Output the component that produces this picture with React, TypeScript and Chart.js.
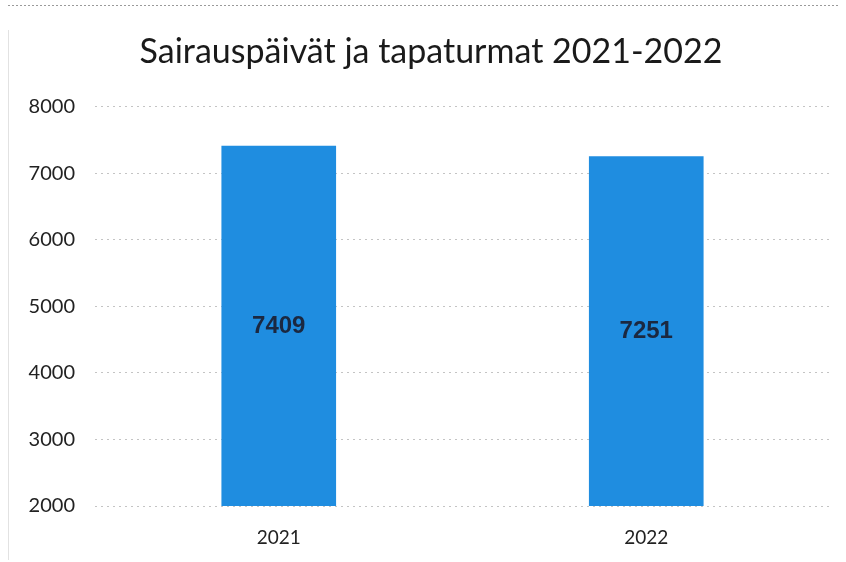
import React, { useEffect, useRef } from "react";
import { Chart, registerables } from "chart.js";

Chart.register(...registerables);

const categories = ["2021", "2022"];
const values = [7409, 7251];
const yTicks = [2000, 3000, 4000, 5000, 6000, 7000, 8000];
const titleText = "Sairauspäivät ja tapaturmat 2021-2022";

const valueLabels = {
  id: "valueLabels",
  afterDatasetsDraw(chart: any) {
    const ctx = chart.ctx;
    const meta = chart.getDatasetMeta(0);
    const bottom = chart.chartArea.bottom;
    ctx.save();
    ctx.font = "bold 24px 'Liberation Sans', Arial, sans-serif";
    ctx.fillStyle = "#1b2840";
    ctx.textAlign = "center";
    ctx.textBaseline = "middle";
    meta.data.forEach((bar: any, i: number) => {
      const mid = (bar.y + Math.min(bar.base, bottom)) / 2;
      ctx.fillText(String(values[i]), bar.x, mid);
    });
    ctx.restore();
  },
};

const scanFrame = {
  id: "scanFrame",
  beforeDraw(chart: any) {
    const ctx = chart.ctx;
    ctx.save();
    ctx.strokeStyle = "#9a9a9a";
    ctx.lineWidth = 1;
    ctx.setLineDash([2, 2]);
    ctx.beginPath();
    ctx.moveTo(8, 5.5);
    ctx.lineTo(840, 5.5);
    ctx.stroke();
    ctx.strokeStyle = "#e2e2e2";
    ctx.setLineDash([]);
    ctx.beginPath();
    ctx.moveTo(8.5, 30);
    ctx.lineTo(8.5, 560);
    ctx.stroke();
    ctx.restore();
  },
  afterDraw(chart: any) {
    const ctx = chart.ctx;
    ctx.save();
    ctx.font = "normal 34px Lato, 'Open Sans', sans-serif";
    ctx.fillStyle = "#1a1a1a";
    ctx.textAlign = "center";
    ctx.textBaseline = "middle";
    ctx.fillText(titleText, 431, 52);
    ctx.restore();
  },
};

export default function App() {
  const ref = useRef<HTMLCanvasElement | null>(null);
  useEffect(() => {
    if (!ref.current) return;
    const chart = new Chart(ref.current, {
      type: "bar",
      data: {
        labels: categories,
        datasets: [
          {
            data: values,
            backgroundColor: "#1f8de0",
            barThickness: 114,
          },
        ],
      },
      options: {
        animation: false,
        responsive: false,
        layout: { padding: { left: 0, right: 16, top: 0, bottom: 0 } },
        plugins: {
          legend: { display: false },
          tooltip: { enabled: false },
          title: {
            display: true,
            text: titleText,
            color: "rgba(0,0,0,0)",
            font: { family: "Lato, 'Open Sans', sans-serif", size: 34, weight: "normal" },
            padding: { top: 32, bottom: 34 },
          },
        },
        scales: {
          x: {
            afterFit(scale: any) {
              scale.height = 56;
            },
            grid: { display: false, drawTicks: false },
            border: { display: false },
            ticks: {
              color: "#222",
              font: { family: "Lato, 'Open Sans', sans-serif", size: 19 },
              padding: 20,
            },
          },
          y: {
            min: 2000,
            max: 8000,
            afterFit(scale: any) {
              scale.width = 95;
            },
            afterBuildTicks(scale: any) {
              scale.ticks = yTicks.map((v) => ({ value: v }));
            },
            grid: {
              color: "#c4c4c4",
              lineWidth: 1,
              drawTicks: false,
            },
            border: { display: false, dash: [2, 4] },
            ticks: {
              color: "#222",
              font: { family: "Lato, 'Open Sans', sans-serif", size: 20 },
              padding: 20,
              callback: (v: any) => String(v),
            },
          },
        },
      },
      plugins: [valueLabels, scanFrame],
    });
    return () => chart.destroy();
  }, []);
  return (
    <div style={{ position: "fixed", left: 0, top: 0, width: 846, height: 562, background: "#fff" }}>
      <canvas ref={ref} width={846} height={562} style={{ display: "block" }} />
    </div>
  );
}
